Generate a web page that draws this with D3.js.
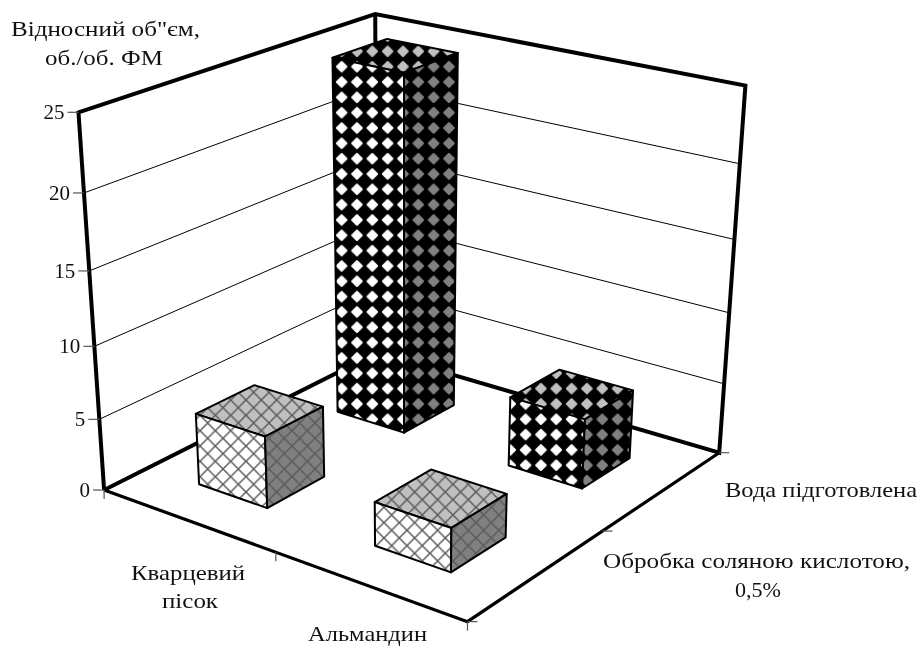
<!DOCTYPE html>
<html>
<head>
<meta charset="utf-8">
<script src="https://cdn.jsdelivr.net/npm/d3@7"></script>
<style>
  html, body { margin: 0; background: #fff; }
  text { font-family: "Liberation Serif", serif; fill: #111; }
  svg { filter: blur(0.35px); }
</style>
</head>
<body>
<div id="chart"></div>
<script>
const categories = ["Кварцевий пісок", "Альмандин"];
const seriesNames = ["Обробка соляною кислотою, 0,5%", "Вода підготовлена"];
const acidValues = [5, 3];
const waterValues = [24.9, 4.9];
const yTitle = ["Відносний об\"єм,", "об./об. ФМ"];

const width = 919;
const height = 646;

// cube corners: [x, z, y] -> screen
const cubeCorners = [
  [[0, 0, 0], [105, 490]],
  [[1, 0, 0], [467, 622]],
  [[1, 1, 0], [720, 452]],
  [[0, 1, 0], [376, 353]],
  [[0, 0, 1], [78, 112]],
  [[0, 1, 1], [376, 14]],
  [[1, 1, 1], [745, 86]],
];

function fitProjection(pairs) {
  const rows = [];
  const rhs = [];
  pairs.forEach(([[x, z, y], [sx, sy]]) => {
    rows.push([x, z, y, 1, 0, 0, 0, 0, -sx * x, -sx * z, -sx * y]);
    rhs.push(sx);
    rows.push([0, 0, 0, 0, x, z, y, 1, -sy * x, -sy * z, -sy * y]);
    rhs.push(sy);
  });
  const n = 11;
  const a = d3.range(n).map((i) =>
    d3.range(n + 1).map((j) =>
      j < n
        ? d3.sum(rows, (r) => r[i] * r[j])
        : d3.sum(rows, (r, k) => r[i] * rhs[k])
    )
  );
  for (let c = 0; c < n; c++) {
    let p = c;
    for (let r = c + 1; r < n; r++) {
      if (Math.abs(a[r][c]) > Math.abs(a[p][c])) p = r;
    }
    [a[c], a[p]] = [a[p], a[c]];
    for (let r = 0; r < n; r++) {
      if (r === c) continue;
      const f = a[r][c] / a[c][c];
      for (let k = c; k <= n; k++) a[r][k] -= f * a[c][k];
    }
  }
  return a.map((row, i) => row[n] / row[i]);
}

const m = fitProjection(cubeCorners);

function project([x, z, y]) {
  const w = m[8] * x + m[9] * z + m[10] * y + 1;
  return [
    (m[0] * x + m[1] * z + m[2] * y + m[3]) / w,
    (m[4] * x + m[5] * z + m[6] * y + m[7]) / w,
  ];
}

const xBand = d3.scaleBand().domain(categories).range([0, 1]).paddingInner(0.6).paddingOuter(0.3);
const zBand = d3.scaleBand().domain(seriesNames).range([0, 1]).paddingInner(0.6).paddingOuter(0.3);
const yScale = d3.scaleLinear().domain([0, 25]).range([0, 1]);

const path = (pts) => d3.line()(pts.map(project)) + "Z";
const open = (pts) => d3.line()(pts.map(project));

const svg = d3
  .select("#chart")
  .append("svg")
  .attr("width", width)
  .attr("height", height)
  .style("display", "block");

/* Patterns, fixed to the screen grid */
const defs = svg.append("defs");
const tile = 15.33;

function addDiamonds(id, shade) {
  const p = defs
    .append("pattern")
    .attr("id", id)
    .attr("patternUnits", "userSpaceOnUse")
    .attr("x", 334)
    .attr("y", 59)
    .attr("width", tile)
    .attr("height", tile);
  p.append("rect").attr("width", tile).attr("height", tile).attr("fill", "#000");
  const c = tile / 2;
  const r = 4.8;
  p.append("path")
    .attr("d", `M${c - r},${c}L${c},${c - r}L${c + r},${c}L${c},${c + r}Z`)
    .attr("fill", shade)
    .attr("stroke", shade)
    .attr("stroke-width", 2)
    .attr("stroke-linejoin", "round");
}

function addHatch(id, shade) {
  const p = defs
    .append("pattern")
    .attr("id", id)
    .attr("patternUnits", "userSpaceOnUse")
    .attr("x", 200)
    .attr("y", 400)
    .attr("width", tile)
    .attr("height", tile);
  p.append("rect").attr("width", tile).attr("height", tile).attr("fill", shade);
  p.append("path")
    .attr("d", `M0,0L${tile},${tile}M${tile},0L0,${tile}`)
    .attr("stroke", "#5a5a5a")
    .attr("stroke-width", 1.5);
}

const shades = { front: "#fff", top: "#c0c0c0", side: "#808080" };
Object.entries(shades).forEach(([k, v]) => {
  addDiamonds("diamond-" + k, v);
  addHatch("hatch-" + k, v);
});

/* Walls */
const yTicks = yScale.ticks(5);
const grid = svg.append("g").attr("stroke", "#000").attr("stroke-width", 1).attr("fill", "none");
yTicks
  .filter((v) => v > 0 && v < 25)
  .forEach((v) => {
    const h = yScale(v);
    grid.append("path").attr("d", open([[0, 0, h], [0, 1, h], [1, 1, h]]));
  });

const frame = svg
  .append("g")
  .attr("stroke", "#000")
  .attr("fill", "none")
  .attr("stroke-linejoin", "miter");
frame
  .append("path")
  .attr("stroke-width", 4)
  .attr("d", open([[0, 0, 0], [0, 0, 1], [0, 1, 1], [1, 1, 1], [1, 1, 0], [0, 1, 0], [0, 0, 0]]));
frame.append("path").attr("stroke-width", 4).attr("d", open([[0, 1, 0], [0, 1, 1]]));
frame.append("path").attr("stroke-width", 3.2).attr("d", open([[0, 0, 0], [1, 0, 0], [1, 1, 0]]));

/* Ticks */
const ticks = svg.append("g").attr("stroke", "#555").attr("stroke-width", 1.2);
yTicks.forEach((v) => {
  const [sx, sy] = project([0, 0, yScale(v)]);
  ticks.append("line").attr("x1", sx - 11).attr("x2", sx).attr("y1", sy).attr("y2", sy);
  svg
    .append("text")
    .attr("x", sx - 14)
    .attr("y", sy + 7)
    .attr("text-anchor", "end")
    .attr("font-size", 21)
    .text(v);
});
[0, 0.5, 1].forEach((t) => {
  const [sx, sy] = project([t, 0, 0]);
  ticks.append("line").attr("x1", sx).attr("x2", sx).attr("y1", sy).attr("y2", sy + 9);
  const [rx, ry] = project([1, t, 0]);
  ticks.append("line").attr("x1", rx).attr("x2", rx + 10).attr("y1", ry).attr("y2", ry);
});

/* Bars, back to front */
const bars = [];
[1, 0].forEach((s) => {
  categories.forEach((c, i) => {
    bars.push({
      category: c,
      series: seriesNames[s],
      value: s === 1 ? waterValues[i] : acidValues[i],
      kind: s === 1 ? "diamond" : "hatch",
    });
  });
});

const barGroups = svg
  .append("g")
  .selectAll("g")
  .data(bars)
  .join("g")
  .attr("stroke", "#000")
  .attr("stroke-width", 2)
  .attr("stroke-linejoin", "round");

barGroups.each(function (d) {
  const x0 = xBand(d.category);
  const x1 = x0 + xBand.bandwidth();
  const z0 = zBand(d.series);
  const z1 = z0 + zBand.bandwidth();
  const h = yScale(d.value);
  const g = d3.select(this);
  g.append("path")
    .attr("fill", `url(#${d.kind}-top)`)
    .attr("d", path([[x0, z0, h], [x1, z0, h], [x1, z1, h], [x0, z1, h]]));
  g.append("path")
    .attr("fill", `url(#${d.kind}-front)`)
    .attr("d", path([[x0, z0, 0], [x1, z0, 0], [x1, z0, h], [x0, z0, h]]));
  g.append("path")
    .attr("fill", `url(#${d.kind}-side)`)
    .attr("d", path([[x1, z0, 0], [x1, z1, 0], [x1, z1, h], [x1, z0, h]]));
});

/* Labels: the source text is stretched sideways, so each one gets its measured width */
function addLabel(label, x, y, w) {
  svg
    .append("text")
    .attr("x", x)
    .attr("y", y)
    .attr("font-size", 22)
    .attr("textLength", w)
    .attr("lengthAdjust", "spacingAndGlyphs")
    .text(label);
}

addLabel(yTitle[0], 11, 36, 189);
addLabel(yTitle[1], 45, 65, 118);
addLabel("Кварцевий", 131, 580, 114);
addLabel("пісок", 162, 608, 56);
addLabel(categories[1], 308, 641, 119);
addLabel(seriesNames[1], 725, 497, 192);
addLabel("Обробка соляною кислотою,", 603, 568, 307);
addLabel("0,5%", 735, 597, 46);
</script>
</body>
</html>
